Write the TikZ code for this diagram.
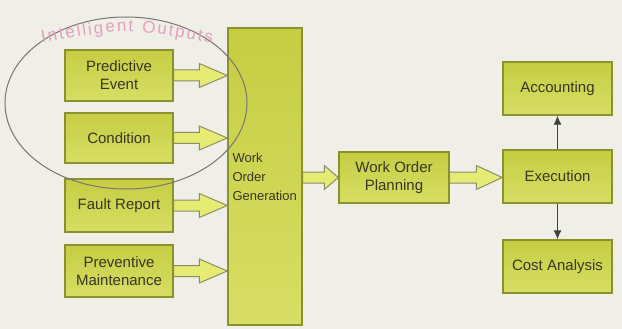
\documentclass[tikz,border=0pt]{standalone}
\usepackage{fontspec}
\setmainfont{Liberation Sans}
\usetikzlibrary{calc,arrows.meta,decorations.text}
\definecolor{bgc}{RGB}{240,239,231}
\definecolor{boxtop}{RGB}{198,205,66}
\definecolor{boxbot}{RGB}{216,222,100}
\definecolor{boxline}{RGB}{138,146,48}
\definecolor{arrfill}{RGB}{230,235,115}
\definecolor{arrline}{RGB}{140,140,105}
\definecolor{pinktxt}{RGB}{225,160,192}
\definecolor{ellline}{RGB}{120,117,115}
\definecolor{txt}{RGB}{55,55,35}
\pgfdeclarelayer{back}
\pgfdeclarelayer{arrowlayer}
\pgfsetlayers{back,arrowlayer,main}
\begin{document}
\begin{tikzpicture}[x=1pt,y=-1pt,
 box/.style={draw=boxline, line width=1.4pt, top color=boxtop, bottom color=boxbot,
   minimum width=108pt, minimum height=51pt, inner sep=0pt, align=center,
   font=\fontsize{15}{18}\selectfont, text=txt},
 blockarrow/.style={draw=arrline, fill=arrfill, line width=1pt, line join=miter,
   to path={let \p1=(\tikztostart), \p2=(\tikztotarget) in
     (\x1,\y1+5.5pt) -- (\x2-#1pt,\y1+5.5pt) -- (\x2-#1pt,\y1+12pt) -- (\x2,\y1)
     -- (\x2-#1pt,\y1-12pt) -- (\x2-#1pt,\y1-5.5pt) -- (\x1,\y1-5.5pt) -- cycle}},
 linkarrow/.style={draw=black!75, line width=1pt, -{Latex[length=9pt,width=8pt]}}
]
\begin{pgfonlayer}{back}
\fill[bgc] (0,0) rectangle (622,329);
\end{pgfonlayer}
\useasboundingbox (0,0) rectangle (622,329);

% left inputs
\node[box] (pe) at (119,75.5) {Predictive\\Event};
\node[box, minimum height=50pt] (cond) at (119,138) {Condition};
\node[box, minimum height=53pt] (fr) at (119,205.5) {Fault Report};
\node[box, minimum height=52pt] (pm) at (119,271) {Preventive\\Maintenance};

% tall box
\node[box, minimum width=74pt, minimum height=297pt] (wog) at (265,176.5) {};
\node[anchor=west, align=left, inner sep=0pt, text=txt,
      font=\fontsize{13}{19}\selectfont] (wogt) at ([xshift=5pt]wog.west) {Work\\Order\\Generation};

% right side
\node[box, minimum width=110pt] (wop) at (394,177.5) {Work Order\\Planning};
\node[box, minimum width=109pt, minimum height=53pt] (exec) at (557.5,176.5) {Execution};
\node[box, minimum width=109pt, minimum height=53pt] (acc) at (557.5,88.5) {Accounting};
\node[box, minimum width=109pt, minimum height=53pt] (cost) at (557.5,266.5) {Cost Analysis};

\begin{pgfonlayer}{arrowlayer}
\draw[blockarrow=28] (pe.east) to (pe.east -| wog.west);
\draw[blockarrow=28] (cond.east) to (cond.east -| wog.west);
\draw[blockarrow=28] (fr.east) to (fr.east -| wog.west);
\draw[blockarrow=28] (pm.east) to (pm.east -| wog.west);
\draw[blockarrow=14] (wop.west -| wog.east) to (wop.west);
\draw[blockarrow=26] (wop.east) to (wop.east -| exec.west);
\end{pgfonlayer}

\draw[linkarrow] (exec.north) -- (acc.south);
\draw[linkarrow] (exec.south) -- (cost.north);

% ellipse grouping
\draw[ellline, line width=1pt] (126,103) ellipse [x radius=121, y radius=86];
\path[decorate, decoration={text along path, text align=fit to path,
   text={|\fontsize{17}{17}\selectfont\color{pinktxt}|Intelligent Outputs}}]
   (42,43) .. controls (126,28) .. (212,43);
\end{tikzpicture}
\end{document}
